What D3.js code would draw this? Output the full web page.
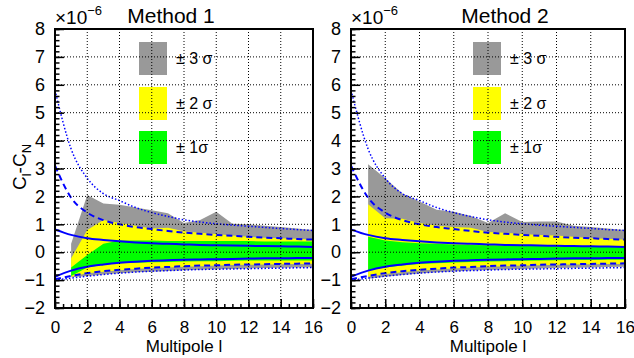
<!DOCTYPE html>
<html>
<head>
<meta charset="utf-8">
<script src="https://cdn.jsdelivr.net/npm/d3@7"></script>
<style>
  body { margin: 0; background: #fff; }
  svg text { font-family: "Liberation Sans", Arial, sans-serif; fill: #000; }
</style>
</head>
<body>
<div id="chart"></div>
<script>
// multipoles for theory curves and measured bands
var multipoles = [0, 1, 2, 3, 4, 5, 6, 7, 8, 9, 10, 11, 12, 13, 14, 15, 16];
var bandMultipoles = [1, 2, 3, 4, 5, 6, 7, 8, 9, 10, 11, 12, 13, 14, 15, 16];

// expected ranges (blue curves), units of 1e-6
var sigma1Upper = [0.82, 0.62, 0.50, 0.44, 0.39, 0.35, 0.32, 0.30, 0.28, 0.26, 0.25, 0.24, 0.23, 0.22, 0.21, 0.20, 0.19];
var sigma1Lower = [-0.88, -0.66, -0.52, -0.44, -0.38, -0.34, -0.31, -0.29, -0.27, -0.26, -0.25, -0.24, -0.23, -0.22, -0.22, -0.21, -0.21];
var sigma2Upper = [3.10, 1.95, 1.42, 1.15, 1.00, 0.90, 0.83, 0.76, 0.70, 0.66, 0.62, 0.59, 0.55, 0.52, 0.50, 0.47, 0.45];
var sigma2Lower = [-0.97, -0.85, -0.75, -0.68, -0.63, -0.59, -0.55, -0.53, -0.50, -0.48, -0.47, -0.45, -0.44, -0.43, -0.42, -0.41, -0.40];
var sigma3Upper = [5.80, 3.70, 2.65, 2.10, 1.85, 1.60, 1.42, 1.28, 1.16, 1.08, 1.02, 0.97, 0.93, 0.89, 0.85, 0.81, 0.78];
var sigma3Lower = [-1.00, -0.93, -0.86, -0.80, -0.75, -0.71, -0.68, -0.66, -0.64, -0.62, -0.61, -0.60, -0.59, -0.58, -0.57, -0.56, -0.55];

// Method 1 bands
var m1Band3Hi = [0.30, 2.05, 1.75, 1.70, 1.60, 1.50, 1.40, 1.05, 1.15, 1.45, 1.02, 1.00, 0.95, 0.90, 0.85, 0.80];
var m1Band3Lo = [-0.90, -0.85, -0.80, -0.75, -0.72, -0.70, -0.67, -0.65, -0.63, -0.61, -0.60, -0.58, -0.57, -0.56, -0.55, -0.54];
var m1Band2Hi = [-0.22, 0.80, 1.15, 1.05, 0.95, 0.85, 0.88, 0.75, 0.70, 0.65, 0.60, 0.55, 0.52, 0.50, 0.48, 0.45];
var m1Band2Lo = [-0.88, -0.75, -0.70, -0.65, -0.60, -0.57, -0.55, -0.52, -0.50, -0.48, -0.46, -0.45, -0.44, -0.43, -0.42, -0.41];
var m1Band1Hi = [-0.55, -0.10, 0.30, 0.42, 0.42, 0.42, 0.40, 0.40, 0.40, 0.40, 0.40, 0.40, 0.38, 0.38, 0.38, 0.38];
var m1Band1Lo = [-0.85, -0.55, -0.45, -0.40, -0.38, -0.36, -0.35, -0.33, -0.32, -0.32, -0.31, -0.30, -0.30, -0.30, -0.30, -0.30];

// Method 2 bands
var m2Band3Hi = [3.15, 2.65, 2.10, 1.82, 1.52, 1.45, 1.30, 1.05, 1.40, 1.08, 1.10, 1.10, 0.95, 0.90, 0.85, 0.80];
var m2Band3Lo = [-0.95, -0.88, -0.82, -0.76, -0.72, -0.69, -0.66, -0.64, -0.62, -0.60, -0.58, -0.57, -0.56, -0.55, -0.53, -0.52];
var m2Band2Hi = [1.72, 1.22, 1.20, 1.05, 0.95, 0.90, 0.88, 0.72, 0.70, 0.65, 0.62, 0.60, 0.55, 0.50, 0.48, 0.45];
var m2Band2Lo = [-0.88, -0.78, -0.72, -0.66, -0.62, -0.58, -0.55, -0.52, -0.50, -0.48, -0.47, -0.45, -0.44, -0.43, -0.42, -0.42];
var m2Band1Hi = [0.55, 0.42, 0.36, 0.32, 0.30, 0.28, 0.26, 0.25, 0.24, 0.23, 0.22, 0.21, 0.20, 0.20, 0.19, 0.18];
var m2Band1Lo = [-0.65, -0.55, -0.48, -0.42, -0.40, -0.37, -0.35, -0.33, -0.32, -0.31, -0.30, -0.29, -0.28, -0.28, -0.27, -0.27];

var xTicks = [0, 2, 4, 6, 8, 10, 12, 14, 16];
var yTicks = [-2, -1, 0, 1, 2, 3, 4, 5, 6, 7, 8];
var legendLabels = ["\u00B1 3 \u03C3", "\u00B1 2 \u03C3", "\u00B1 1\u03C3"];
var bandColors = ["#999999", "#ffff00", "#00ff00"];

var W = 634, H = 358;
var svg = d3.select("#chart").append("svg").attr("width", W).attr("height", H);

function drawPanel(p) {
  var x = d3.scaleLinear().domain([0, 16]).range([p.left, p.right]);
  var y = d3.scaleLinear().domain([-2, 8]).range([308, 29]);
  var g = svg.append("g");

  var clipId = "clip" + p.id;
  svg.append("clipPath").attr("id", clipId).append("rect")
    .attr("x", p.left).attr("y", 29).attr("width", p.right - p.left).attr("height", 279);
  var plot = g.append("g").attr("clip-path", "url(#" + clipId + ")");

  // bands
  var area = d3.area().x(function(d) { return x(d.l); })
    .y0(function(d) { return y(d.lo); }).y1(function(d) { return y(d.hi); });
  p.bands.forEach(function(b, i) {
    var pts = bandMultipoles.map(function(l, k) { return {l: l, lo: b[0][k], hi: b[1][k]}; });
    plot.append("path").attr("d", area(pts)).attr("fill", bandColors[i]);
  });

  // theory curves
  var line = d3.line().x(function(d, k) { return x(multipoles[k]); }).y(function(d) { return y(d); })
    .curve(d3.curveMonotoneX);
  [[sigma1Upper, null, 2], [sigma1Lower, null, 2],
   [sigma2Upper, "6,4", 2], [sigma2Lower, "6,4", 2],
   [sigma3Upper, "1.5,2", 1.5], [sigma3Lower, "1.5,2", 1.5]].forEach(function(c) {
    plot.append("path").attr("d", line(c[0])).attr("fill", "none")
      .attr("stroke", "#0000ff").attr("stroke-width", c[2])
      .attr("stroke-dasharray", c[1]);
  });

  // legend boxes and labels
  var boxY = [42, 87, 131];
  legendLabels.forEach(function(t, i) {
    g.append("rect").attr("x", p.legendX).attr("y", boxY[i]).attr("width", 28).attr("height", 33)
      .attr("fill", bandColors[i]);
    g.append("text").attr("x", p.legendX + 37).attr("y", boxY[i] + 22)
      .attr("font-size", 16).text(t);
  });

  // grid
  xTicks.slice(1, -1).forEach(function(v) {
    g.append("line").attr("x1", x(v)).attr("x2", x(v)).attr("y1", 29).attr("y2", 308)
      .attr("stroke", "#000").attr("stroke-width", 1).attr("stroke-dasharray", "1,2");
  });
  yTicks.slice(1, -1).forEach(function(v) {
    g.append("line").attr("x1", p.left).attr("x2", p.right).attr("y1", y(v)).attr("y2", y(v))
      .attr("stroke", "#000").attr("stroke-width", 1).attr("stroke-dasharray", "1,2");
  });

  // axes with inward ticks
  var xAxis = d3.axisBottom(x).tickValues(xTicks).tickSize(-9).tickPadding(13).tickFormat(d3.format("d"));
  var xMinor = d3.axisBottom(x).tickValues(d3.range(0, 16.01, 0.5)).tickSize(-4).tickFormat("");
  var yAxis = d3.axisLeft(y).tickValues(yTicks).tickSize(-9).tickPadding(10).tickFormat(function(d) { return d < 0 ? "\u2212" + (-d) : d; });
  var yMinor = d3.axisLeft(y).tickValues(d3.range(-2, 8.01, 0.2)).tickSize(-4.5).tickFormat("");

  [xMinor, xAxis].forEach(function(a) {
    var ag = g.append("g").attr("transform", "translate(0,308)").call(a);
    ag.select(".domain").remove();
    ag.selectAll("line").attr("stroke", "#000").attr("stroke-width", 1.5);
    ag.selectAll("text").attr("font-size", 17).attr("font-family", "Liberation Sans, Arial, sans-serif");
  });
  [yMinor, yAxis].forEach(function(a) {
    var ag = g.append("g").attr("transform", "translate(" + p.left + ",0)").call(a);
    ag.select(".domain").remove();
    ag.selectAll("line").attr("stroke", "#000").attr("stroke-width", 1.5);
    ag.selectAll("text").attr("font-size", 18).attr("font-family", "Liberation Sans, Arial, sans-serif");
  });

  // frame
  g.append("rect").attr("x", p.left).attr("y", 29).attr("width", p.right - p.left).attr("height", 279)
    .attr("fill", "none").attr("stroke", "#000").attr("stroke-width", 2);

  // titles
  g.append("text").attr("x", p.titleX).attr("y", 23).attr("text-anchor", "middle")
    .attr("font-size", 21).text(p.title);
  var ex = g.append("text").attr("x", p.left).attr("y", 24).attr("font-size", 19);
  ex.append("tspan").text("\u00D710");
  ex.append("tspan").attr("dy", -9).attr("font-size", 13).text("\u22126");
  g.append("text").attr("x", (p.left + p.right) / 2).attr("y", 352).attr("text-anchor", "middle")
    .attr("font-size", 17).text("Multipole l");
}

drawPanel({id: 1, left: 55, right: 313, legendX: 139, titleX: 171, title: "Method 1",
  bands: [[m1Band3Lo, m1Band3Hi], [m1Band2Lo, m1Band2Hi], [m1Band1Lo, m1Band1Hi]]});
drawPanel({id: 2, left: 351, right: 625, legendX: 473, titleX: 505, title: "Method 2",
  bands: [[m2Band3Lo, m2Band3Hi], [m2Band2Lo, m2Band2Hi], [m2Band1Lo, m2Band1Hi]]});

// y-axis title
var yt = svg.append("text").attr("transform", "translate(26,167) rotate(-90)")
  .attr("text-anchor", "middle").attr("font-size", 19);
yt.append("tspan").text("C");
yt.append("tspan").attr("dy", 5).attr("font-size", 13).text("l");
yt.append("tspan").attr("dy", -5).text("-C");
yt.append("tspan").attr("dy", 5).attr("font-size", 13).text("N");
</script>
</body>
</html>
